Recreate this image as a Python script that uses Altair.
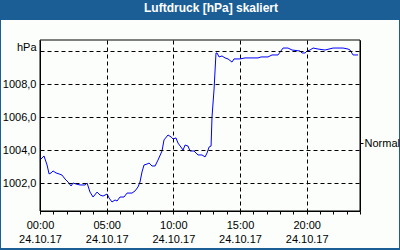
import altair as alt
import pandas as pd

# hours since 00:00 on 24.10.17 and pressure in hPa
hours = [0.00, 0.30, 0.53, 0.68, 0.83, 0.98, 1.20, 1.43, 1.65, 1.88, 2.10, 2.33, 2.48, 2.70,
         3.00, 3.38, 3.53, 3.75, 3.98, 4.28, 4.50, 4.73, 5.03, 5.18, 5.40, 5.63, 5.78, 6.00,
         6.30, 6.53, 6.90, 7.13, 7.35, 7.50, 7.65, 7.80, 8.03, 8.18, 8.40, 8.63, 8.85, 9.15,
         9.30, 9.60, 9.83, 9.98, 10.20, 10.35, 10.73, 10.88, 11.10, 11.25, 11.55, 11.85,
         12.15, 12.38, 12.53, 12.68, 12.83, 12.90, 13.05, 13.20, 13.28, 13.43, 13.65, 13.88,
         14.10, 14.40, 14.55, 15.00, 15.38, 16.35, 16.58, 17.10, 17.40, 17.85, 18.23, 18.60,
         18.90, 19.50, 19.65, 19.88, 20.03, 20.25, 20.48, 20.85, 21.38, 21.98, 22.73, 23.10,
         23.25, 23.48, 23.85]
pressure = [1003.39, 1003.64, 1003.09, 1002.55, 1002.61, 1002.73, 1002.61, 1002.55, 1002.48,
            1002.24, 1002.06, 1001.82, 1002.00, 1001.94, 1001.88, 1001.88, 1002.00, 1001.45,
            1001.15, 1001.45, 1001.27, 1001.21, 1001.33, 1001.09, 1000.85, 1000.97, 1000.91,
            1001.15, 1001.15, 1001.39, 1001.39, 1001.52, 1001.76, 1002.06, 1002.67, 1003.09,
            1003.15, 1003.21, 1003.03, 1003.03, 1003.39, 1003.94, 1004.61, 1004.91, 1004.79,
            1004.67, 1004.73, 1004.42, 1004.00, 1004.30, 1004.24, 1003.94, 1003.94, 1003.70,
            1003.70, 1003.58, 1003.82, 1004.18, 1004.24, 1006.00, 1007.64, 1009.88, 1009.88,
            1009.64, 1009.70, 1009.58, 1009.52, 1009.33, 1009.52, 1009.52, 1009.58, 1009.58,
            1009.64, 1009.64, 1009.76, 1009.76, 1010.18, 1010.18, 1010.06, 1010.00, 1009.88,
            1009.88, 1010.00, 1010.06, 1010.18, 1010.12, 1010.06, 1010.18, 1010.18, 1010.12,
            1010.06, 1009.76, 1009.76]

y_ticks = [1002, 1004, 1006, 1008, 1010]
x_ticks = list(range(0, 25))
normal_level = [1004.42]
date_label = "24.10.17"
title_text = "Luftdruck [hPa] skaliert"

df = pd.DataFrame({"h": hours, "p": pressure})
df_normal = pd.DataFrame({"h": [0.0], "p": normal_level})

FONT = "Liberation Sans"
W, H = 320, 171
x_scale = alt.Scale(domain=[0, 24], nice=False, zero=False)
y_scale = alt.Scale(domain=[1000.303, 1010.667], nice=False, zero=False)

x_axis = alt.Axis(
    values=x_ticks,
    title=None,
    labelExpr=f"datum.value % 5 === 0 ? [(datum.value < 10 ? '0' : '') + datum.value + ':00', '{date_label}'] : ''",
    labelFont=FONT, labelFontSize=11, labelColor="black",
    labelLineHeight=14, labelPadding=5, labelAngle=0,
    tickSize=3, tickColor="black", domainColor="black",
    grid=True, gridColor="black", gridDash=[4, 3],
    gridOpacity={"condition": {"test": "datum.value % 5 === 0 && datum.value > 0 && datum.value < 24", "value": 1}, "value": 0},
    labelFlush=False, labelOverlap=False, zindex=1,
)
y_axis = alt.Axis(
    values=y_ticks,
    title="hPa", titleAngle=0, titleAlign="right", titleBaseline="middle",
    titleX=-4, titleY=7, titleFont=FONT, titleFontSize=11, titleFontWeight="normal",
    titleColor="black",
    labelExpr="datum.value === 1010 ? '' : replace(format(datum.value, '.1f'), '.', ',')",
    labelFont=FONT, labelFontSize=11, labelColor="black", labelPadding=4,
    tickSize=0, domainColor="black",
    grid=True, gridColor="black", gridDash=[4, 3], zindex=1,
)

# inner light panel (frame decoration)
panel = alt.Chart(df_normal).mark_rect(color="#FBFEFB", clip=False).encode(
    x=alt.value(-39), x2=alt.value(359), y=alt.value(-20), y2=alt.value(208)
)

line = alt.Chart(df).mark_line(color="#0000FF", strokeWidth=1).encode(
    x=alt.X("h:Q", scale=x_scale, axis=x_axis),
    y=alt.Y("p:Q", scale=y_scale, axis=y_axis),
)

normal = alt.Chart(df_normal).mark_point(opacity=0).encode(
    x=alt.X("h:Q", scale=x_scale, axis=x_axis),
    y=alt.Y("p:Q", scale=y_scale, axis=alt.Axis(
        orient="right", values=normal_level, title=None, labelExpr="'Normal'",
        labelFont=FONT, labelFontSize=11, labelColor="black", labelPadding=1,
        tickSize=3, tickColor="black", domainColor="black", grid=False, zindex=1,
    )),
)

border = alt.Chart(df_normal).mark_rect(fill=None, stroke="black", strokeWidth=1).encode(
    x=alt.value(0), x2=alt.value(W), y=alt.value(0), y2=alt.value(H)
)

chart = alt.layer(panel, line, normal, border).resolve_axis(y="independent").properties(
    width=W, height=H,
    background="#1B5E96",
    padding={"left": 40, "top": 40, "right": 40, "bottom": 39},
    autosize=alt.AutoSizeParams(type="none"),
    title=alt.TitleParams(
        text=title_text, color="white", font=FONT, fontSize=12, fontWeight="bold",
        anchor="middle", frame="group", dx=11, offset=5,
    ),
).configure_view(stroke=None)

chart.save("out.html", embed_options={"renderer": "svg", "actions": False})
